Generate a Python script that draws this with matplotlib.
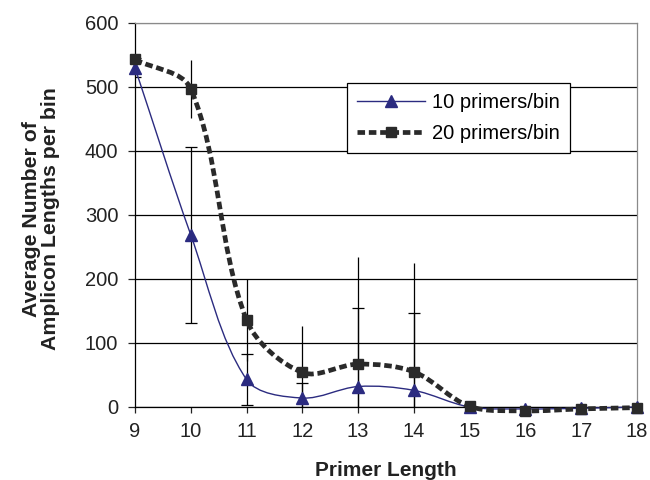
import numpy as np
import matplotlib
matplotlib.use("Agg")
import matplotlib.pyplot as plt
from matplotlib.path import Path
from matplotlib.patches import PathPatch
from matplotlib.lines import Line2D

# primer length on x, mean amplicon lengths per bin on y
primer_len = [9, 10, 11, 12, 13, 14, 15, 16, 17, 18]
avg_10 = [530, 269, 43, 14, 32, 26, 0, -3, -2, 0]
avg_20 = [543, 497, 136, 54, 67, 55, 1, -6, -3, -1]
err_10 = [15, 138, 40, 24, 122, 121, 0, 0, 0, 0]
err_20 = [8, 45, 64, 72, 168, 170, 0, 0, 0, 0]
labels = ["10 primers/bin", "20 primers/bin"]

plt.rcParams['font.family'] = ['Liberation Sans', 'DejaVu Sans']

BLUE = '#2b2b80'
DARK = '#2a2a2a'


def smooth_path(ax, x, y):
    # bezier through the points, tangents weighted by on-screen segment length
    pts = ax.transData.transform(np.column_stack([x, y]))
    n = len(x)
    d = [np.hypot(*(pts[i + 1] - pts[i])) for i in range(n - 1)]
    verts = [(x[0], y[0])]
    codes = [Path.MOVETO]
    for i in range(n - 1):
        a = max(i - 1, 0)
        b = min(i + 2, n - 1)
        d0 = d[i - 1] if i > 0 else 0.0
        d2 = d[i + 1] if i + 2 < n else 0.0
        k1 = d[i] / (d0 + d[i]) / 3
        k2 = d[i] / (d[i] + d2) / 3
        c1 = (x[i] + (x[i + 1] - x[a]) * k1, y[i] + (y[i + 1] - y[a]) * k1)
        c2 = (x[i + 1] - (x[b] - x[i]) * k2, y[i + 1] - (y[b] - y[i]) * k2)
        verts += [c1, c2, (x[i + 1], y[i + 1])]
        codes += [Path.CURVE4] * 3
    return Path(verts, codes)


fig = plt.figure(figsize=(6.5, 4.8), dpi=100)
ax = fig.add_axes([135/650, 1 - 407/480, 502/650, 384/480])
ax.set_xlim(9, 18)
ax.set_ylim(0, 600)

x = np.array(primer_len, dtype=float)
y10 = np.array(avg_10, dtype=float)
y20 = np.array(avg_20, dtype=float)
e10 = np.array(err_10, dtype=float)
e20 = np.array(err_20, dtype=float)

# error bars: capped for 10/bin, plain for 20/bin
m = e20 > 0
ax.errorbar(x[m], y20[m], yerr=e20[m], fmt='none', ecolor='black',
            elinewidth=0.9, capsize=0, zorder=3)
m = e10 > 0
ax.errorbar(x[m], y10[m], yerr=e10[m], fmt='none', ecolor='black',
            elinewidth=0.9, capsize=4.5, capthick=0.9, zorder=3)

# smoothed lines
p10 = PathPatch(smooth_path(ax, x, y10), fill=False, edgecolor=BLUE, lw=1.0,
                zorder=4, clip_on=False)
ax.add_patch(p10)
p20 = PathPatch(smooth_path(ax, x, y20), fill=False, edgecolor=DARK, lw=3.4,
                linestyle=(0, (1.6, 0.8)), zorder=5, clip_on=False)
ax.add_patch(p20)

ax.plot(x, y10, ls='none', marker='^', ms=8, color=BLUE, zorder=6, clip_on=False)
ax.plot(x, y20, ls='none', marker='s', ms=7, color=DARK, zorder=7, clip_on=False)

ax.set_xticks(primer_len)
ax.set_yticks(range(0, 601, 100))
ax.tick_params(axis='both', labelsize=14.5, colors='#222222', width=0.9)
ax.tick_params(axis='x', length=4, pad=7)
ax.tick_params(axis='y', length=5, pad=7)

ax.yaxis.grid(True, color='black', lw=0.9)
ax.set_axisbelow(True)
ax.yaxis.get_gridlines()[-1].set_color('#8a8a8a')
for s in ['left', 'bottom']:
    ax.spines[s].set_color('black')
    ax.spines[s].set_linewidth(0.9)
for s in ['top', 'right']:
    ax.spines[s].set_color('#8a8a8a')
    ax.spines[s].set_linewidth(0.9)

handles = [
    Line2D([], [], color=BLUE, lw=1.0, marker='^', ms=8),
    Line2D([], [], color=DARK, lw=3.4, dashes=(1.6, 0.8), marker='s', ms=7,
           dash_capstyle='butt'),
]
leg = ax.legend(handles, labels, loc='upper left',
                bbox_to_anchor=(0.422, 0.844), fontsize=14.5, frameon=True,
                fancybox=False, edgecolor='black', framealpha=1,
                handlelength=3.4, handletextpad=0.35, borderpad=0.5,
                labelspacing=0.6, borderaxespad=0)
leg.get_frame().set_linewidth(0.9)
leg.set_zorder(10)

fig.text(386/650, 3.5/480, "Primer Length", ha='center', va='baseline',
         fontsize=15, fontweight='bold', color='#222222')
fig.text(41/650, 1 - 219/480, "Average Number of\nAmplicon Lengths per bin",
         ha='center', va='center', rotation=90, fontsize=15.3,
         fontweight='bold', color='#222222', linespacing=1.0)

fig.savefig("out.png", dpi=100)
